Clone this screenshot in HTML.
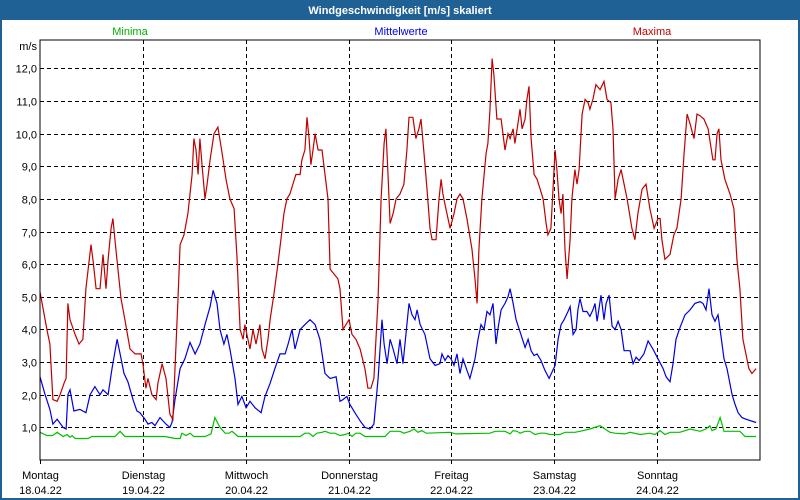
<!DOCTYPE html>
<html><head><meta charset="utf-8"><style>
body{margin:0;background:#fff;}
#wrap{position:relative;width:800px;height:500px;overflow:hidden;font-family:"Liberation Sans","DejaVu Sans",sans-serif;}
</style></head><body>
<div id="wrap">
<svg id="chart" width="800" height="500" xmlns="http://www.w3.org/2000/svg">
<rect x="0" y="0" width="800" height="500" fill="#1f6095"/>
<rect x="2" y="20" width="796" height="478" fill="#ffffff"/>
<text x="400" y="14" text-anchor="middle" font-size="11" font-weight="bold" fill="#ffffff">Windgeschwindigkeit [m/s] skaliert</text>
<text x="130" y="35" text-anchor="middle" font-size="11" fill="#00b000">Minima</text>
<text x="401" y="35" text-anchor="middle" font-size="11" fill="#0000e0">Mittelwerte</text>
<text x="652" y="35" text-anchor="middle" font-size="11" fill="#c00000">Maxima</text>
<text x="37" y="50" text-anchor="end" font-size="11" fill="#000">m/s</text>
<g id="grid"></g>
<g id="series"></g>
<rect x="40" y="40" width="720" height="420" fill="none" stroke="#000" stroke-width="1"/>
<g id="labels"></g>
</svg>
</div>
<script>
const dayNames = ["Montag","Dienstag","Mittwoch","Donnerstag","Freitag","Samstag","Sonntag"];
const dayDates = ["18.04.22","19.04.22","20.04.22","21.04.22","22.04.22","23.04.22","24.04.22"];
const yTicks = [1,2,3,4,5,6,7,8,9,10,11,12];
const yTickLabels = ["1,0","2,0","3,0","4,0","5,0","6,0","7,0","8,0","9,0","10,0","11,0","12,0"];

const maxHours = [0,1.6,2.3,3.0,4.0,4.7,5.6,6.1,6.5,7.0,8.2,9.1,10.0,10.7,11.9,12.4,13.1,14.0,14.7,15.4,15.9,16.6,17.0,17.7,18.9,19.8,21.0,22.2,23.6,24.0,24.7,25.2,26.1,27.1,27.5,28.5,29.4,30.3,31.0,31.5,32.2,32.7,33.6,34.5,35.5,35.9,36.4,36.9,37.3,37.8,38.5,39.0,39.7,40.6,41.5,42.5,43.4,44.3,45.3,46.0,46.7,47.4,47.8,48.5,49.0,49.7,50.4,51.3,51.8,52.5,53.2,53.7,54.6,55.5,56.2,56.9,57.6,58.3,59.0,59.7,60.7,61.1,61.8,62.3,62.8,63.2,63.7,64.2,64.9,65.8,66.5,67.2,67.7,68.6,69.5,70.0,70.7,71.4,72.1,72.8,73.7,74.7,75.8,76.5,77.2,77.9,78.9,79.6,80.3,80.7,81.2,81.7,82.4,83.1,84.0,84.9,85.6,86.1,87.0,87.7,88.4,88.9,89.6,90.3,91.0,91.5,92.4,93.1,93.6,94.0,94.7,95.7,96.6,97.3,98.0,98.7,99.6,100.8,101.5,102.0,102.4,103.1,104.1,104.5,105.0,105.5,105.9,106.6,107.6,108.5,109.2,109.7,110.4,110.8,111.5,112.0,112.5,113.2,113.6,114.1,114.6,115.3,116.0,116.7,117.4,118.1,118.5,119.2,119.7,120.2,120.6,121.1,121.6,122.0,122.5,123.0,123.7,124.1,124.8,125.3,125.8,126.5,127.2,127.9,128.3,129.0,129.7,130.7,131.6,132.3,133.2,133.7,134.2,134.9,135.6,136.3,137.0,138.1,138.8,139.5,140.5,141.4,142.3,143.3,144.2,144.7,145.1,145.8,147.0,147.9,148.6,149.6,150.3,151.0,151.7,152.6,153.3,154.0,154.9,155.9,157.0,157.5,158.0,158.4,158.9,159.8,161.0,161.9,162.6,163.3,164.0,164.7,165.4,166.1,167.1];
const maxValues = [5.15,4.0,3.55,1.85,1.8,2.0,2.35,2.5,4.8,4.3,3.85,3.55,3.7,5.25,6.6,6.1,5.25,5.25,6.3,5.25,6.15,7.1,7.4,6.45,4.95,4.3,3.4,3.25,3.25,2.95,2.2,2.5,2.0,1.85,2.35,2.95,2.5,1.4,1.25,2.8,4.95,6.6,6.9,7.55,8.75,9.85,9.5,8.75,9.85,9.05,8.0,8.45,9.2,10.0,10.2,9.4,8.6,8.0,7.7,6.15,4.0,3.7,4.15,3.7,3.4,4.0,3.55,4.15,3.4,3.1,3.7,4.3,5.1,6.0,6.75,7.55,8.0,8.15,8.45,8.75,8.75,9.2,9.5,10.5,9.85,9.05,9.5,10.0,9.5,9.5,8.75,8.0,5.85,5.7,5.55,5.25,4.0,4.15,4.3,3.85,3.7,3.4,2.8,2.2,2.2,2.5,4.95,8.0,9.7,10.15,8.75,7.25,7.55,8.0,8.15,8.45,9.5,10.5,10.5,9.85,10.15,10.45,9.4,8.3,7.1,6.75,6.75,8.0,8.6,8.15,7.7,7.1,7.55,8.0,8.15,8.0,7.4,6.45,5.55,4.8,6.45,8.0,9.4,9.7,10.75,12.3,11.8,10.45,10.45,9.5,10.0,9.85,10.15,9.7,10.3,10.75,10.15,10.45,11.05,11.45,9.85,8.75,8.6,8.3,8.0,7.25,6.9,7.1,8.3,9.5,8.9,8.0,7.55,8.15,6.45,5.55,6.75,8.0,8.9,8.45,8.9,10.6,11.05,10.95,10.75,11.05,11.5,11.35,11.6,11.05,10.95,10.15,8.0,8.6,8.9,8.45,8.0,7.1,6.75,7.55,8.3,8.45,7.7,7.1,7.4,7.4,6.75,6.15,6.3,6.9,7.1,8.0,9.4,10.6,10.3,9.85,10.6,10.55,10.45,10.15,9.2,9.2,10.0,10.15,9.2,8.6,8.15,7.7,6.15,5.25,3.7,3.25,2.8,2.65,2.8];

const meanHours = [0,1.2,2.3,3.0,4.0,5.4,6.1,6.5,7.0,7.9,9.3,10.7,11.7,12.8,14.0,14.7,15.9,16.8,18.0,18.7,19.6,20.5,21.7,22.6,23.3,24.5,25.2,26.1,26.8,28.0,29.4,30.3,30.8,31.5,32.7,33.8,35.0,36.2,37.3,38.5,39.7,40.4,41.3,42.0,42.9,43.6,44.3,45.5,46.2,47.1,48.1,49.0,50.2,51.6,52.5,53.7,54.8,56.0,57.2,57.9,58.8,59.5,60.7,61.8,63.0,64.2,65.3,66.5,67.7,69.1,70.0,70.7,71.6,72.3,73.7,74.7,75.8,77.0,77.9,78.9,79.8,80.3,81.0,81.7,82.4,83.3,84.0,84.7,85.6,86.1,86.8,87.5,88.0,88.7,89.8,91.0,92.2,93.3,93.8,94.5,95.2,95.9,96.6,97.3,98.0,98.7,99.6,100.3,101.5,102.2,102.9,103.6,104.3,105.0,105.7,106.4,106.9,107.6,108.5,109.2,109.7,110.4,111.1,112.2,113.2,113.9,114.6,115.3,116.0,116.9,117.8,118.8,119.5,120.2,120.9,121.6,122.3,123.2,123.7,124.4,125.1,125.5,126.0,126.7,127.6,128.3,129.0,129.5,130.0,130.9,131.6,132.1,132.8,133.5,134.2,134.9,135.6,136.3,137.7,138.4,139.1,139.8,140.9,141.9,143.0,144.2,145.4,146.1,147.0,147.7,148.4,149.3,150.5,151.7,152.8,154.0,154.7,155.4,156.1,156.8,157.5,158.2,158.7,159.6,160.3,161.5,162.2,162.9,163.8,164.7,167.1];
const meanValues = [2.55,2.0,1.55,1.1,1.25,1.0,0.95,2.0,2.15,1.5,1.55,1.45,2.0,2.25,2.0,2.15,2.0,2.8,3.7,3.25,2.65,2.4,1.85,1.5,1.45,1.25,1.1,1.15,1.05,1.3,1.1,1.0,1.15,1.85,2.8,3.1,3.6,3.25,3.55,4.15,4.7,5.2,4.8,4.0,3.55,3.85,3.4,2.5,1.7,1.95,1.6,1.8,1.6,1.45,1.95,2.35,2.8,3.25,3.25,3.55,4.0,3.4,4.0,4.15,4.3,4.15,3.7,2.65,2.5,2.55,1.8,1.85,1.95,1.7,1.4,1.2,1.0,0.95,1.1,2.5,4.3,3.55,2.95,3.7,3.4,2.95,3.7,2.95,4.15,4.8,4.45,4.3,4.6,4.15,3.85,3.1,2.9,2.95,3.25,3.05,3.2,3.1,2.9,3.25,2.65,3.1,2.75,2.5,3.1,3.7,4.15,4.0,4.55,4.45,4.8,3.55,4.05,4.6,4.8,5.0,5.25,4.8,4.3,3.85,3.45,3.7,3.35,3.2,3.25,3.05,2.75,2.5,2.7,2.9,3.7,4.15,4.3,4.55,4.7,3.85,4.0,4.6,4.95,4.55,4.55,4.4,4.6,4.8,4.25,5.05,4.3,4.8,5.05,4.1,4.0,4.25,4.0,3.35,3.35,2.95,3.15,3.05,3.25,3.65,3.4,3.1,2.8,2.55,2.4,2.95,3.7,4.05,4.45,4.6,4.8,4.85,4.8,4.6,5.25,4.45,4.25,4.45,4.0,3.1,2.8,2.0,1.7,1.45,1.3,1.25,1.15];

const minHours = [0,1.6,3.0,4.0,5.4,6.3,7.0,7.5,8.2,11.2,12.1,17.5,18.7,19.8,29.2,31.5,32.7,33.1,34.1,35.0,35.9,38.5,39.9,40.8,42.0,43.2,44.1,44.8,46.2,60.7,61.8,62.8,63.7,64.6,65.8,66.5,67.7,68.8,70.0,71.2,71.9,72.8,73.7,74.7,75.8,80.5,81.7,84.0,84.9,86.3,87.3,88.2,89.1,90.1,95.7,97.1,105.0,106.2,108.5,109.7,110.4,111.3,112.0,113.2,114.3,115.5,116.7,117.8,119.0,121.3,122.5,124.8,126.0,128.3,130.7,131.8,133.0,134.2,136.5,137.7,140.0,142.3,143.5,144.7,145.8,147.0,149.3,151.7,154.0,155.4,156.3,156.8,157.7,158.7,159.6,163.3,164.5,167.1];
const minValues = [0.85,0.75,0.75,0.85,0.72,0.78,0.7,0.75,0.66,0.66,0.72,0.72,0.88,0.72,0.72,0.66,0.66,0.82,0.75,0.82,0.72,0.72,0.8,1.3,1.0,0.82,0.82,0.88,0.72,0.72,0.82,0.82,0.72,0.82,0.85,0.88,0.82,0.82,0.75,0.78,0.82,0.72,0.82,0.82,0.72,0.72,0.88,0.88,0.82,0.88,0.95,0.85,0.9,0.82,0.85,0.8,0.82,0.88,0.88,0.8,0.9,0.88,0.82,0.88,0.88,0.78,0.82,0.82,0.78,0.78,0.85,0.85,0.88,0.95,1.05,0.95,0.85,0.82,0.8,0.85,0.78,0.82,0.78,0.9,0.78,0.85,0.85,0.95,0.88,0.95,1.05,0.9,0.95,1.3,0.88,0.88,0.72,0.72];

const NS = "http://www.w3.org/2000/svg";
const PL = 40, PR = 760, PT = 40, PB = 460;
const HOURS = 168, YMAX = 12.87;
function xScale(h){ return PL + h / HOURS * (PR - PL); }
function yScale(v){ return PB - v / YMAX * (PB - PT); }

const grid = document.getElementById('grid');
yTicks.forEach((t, i) => {
  const y = Math.round(yScale(t)) + 0.5;
  const ln = document.createElementNS(NS, 'line');
  ln.setAttribute('x1', PL); ln.setAttribute('x2', PR);
  ln.setAttribute('y1', y); ln.setAttribute('y2', y);
  ln.setAttribute('stroke', '#000'); ln.setAttribute('stroke-dasharray', '4,3');
  
  
  grid.appendChild(ln);
  const tx = document.createElementNS(NS, 'text');
  tx.setAttribute('x', 37); tx.setAttribute('y', y + 4);
  tx.setAttribute('text-anchor', 'end'); tx.setAttribute('font-size', '11');
  tx.textContent = yTickLabels[i];
  
  
  grid.appendChild(tx);
});
dayNames.forEach((d, i) => {
  const x = Math.round(xScale(i * 24)) + 0.5;
  if (i > 0) {
    const ln = document.createElementNS(NS, 'line');
    ln.setAttribute('x1', x); ln.setAttribute('x2', x);
    ln.setAttribute('y1', PT); ln.setAttribute('y2', PB);
    ln.setAttribute('stroke', '#000'); ln.setAttribute('stroke-dasharray', '4,3');
    
    
    grid.appendChild(ln);
  }
  const tk = document.createElementNS(NS, 'line');
  tk.setAttribute('x1', x); tk.setAttribute('x2', x);
  tk.setAttribute('y1', PB); tk.setAttribute('y2', PB + 4);
  tk.setAttribute('stroke', '#000');
  
  
  grid.appendChild(tk);
  const t1 = document.createElementNS(NS, 'text');
  t1.setAttribute('x', x); t1.setAttribute('y', 479);
  t1.setAttribute('text-anchor', 'middle'); t1.setAttribute('font-size', '11');
  t1.textContent = d;
  
  
  grid.appendChild(t1);
  const t2 = document.createElementNS(NS, 'text');
  t2.setAttribute('x', x); t2.setAttribute('y', 494);
  t2.setAttribute('text-anchor', 'middle'); t2.setAttribute('font-size', '11');
  t2.textContent = dayDates[i];
  
  
  grid.appendChild(t2);
});

const series = document.getElementById('series');
function drawLine(hours, values, color, name){
  const n = Math.min(hours.length, values.length);
  const pts = [];
  for (let i = 0; i < n; i++) pts.push(xScale(hours[i]).toFixed(1) + ',' + yScale(values[i]).toFixed(1));
  const pl = document.createElementNS(NS, 'polyline');
  pl.setAttribute('points', pts.join(' '));
  pl.setAttribute('fill', 'none'); pl.setAttribute('stroke', color);
  pl.setAttribute('stroke-width', '1.2');
  
  
  series.appendChild(pl);
}
drawLine(minHours, minValues, '#00c000', 'minima-line');
drawLine(meanHours, meanValues, '#0000e0', 'mittelwerte-line');
drawLine(maxHours, maxValues, '#c00000', 'maxima-line');
</script>
</body></html>
